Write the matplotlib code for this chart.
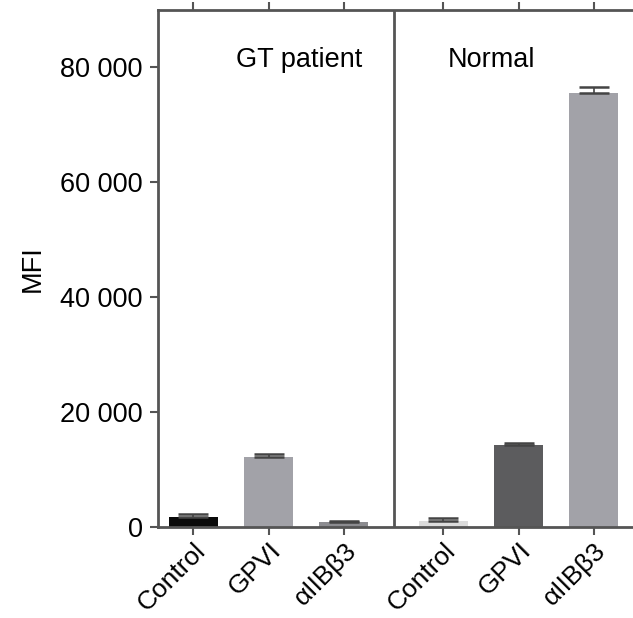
import numpy as np
import matplotlib
matplotlib.use("Agg")
import matplotlib.pyplot as plt

plt.rcParams['font.family'] = ['Liberation Sans', 'DejaVu Sans']

# MFI per antibody, GT patient vs normal donor
labels = ['Control', 'GPVI', 'αIIBβ3', 'Control', 'GPVI', 'αIIBβ3']
mfi = [1750, 12200, 870, 1050, 14300, 75500]
err = [550, 450, 150, 500, 300, 1000]
colors = ['#0a0a0a', '#a2a2a8', '#8c8c90', '#dcdcdc', '#5c5c5e', '#a2a2a8']
pos = [0, 1, 2, 3.32, 4.32, 5.32]

fig = plt.figure(figsize=(6.33, 6.18), dpi=100)
ax = fig.add_axes([0.2496, 0.147, 0.76, 0.837])

ax.bar(pos, mfi, width=0.65, color=colors, zorder=2)
ax.errorbar(pos, mfi, yerr=[np.zeros(len(err)), err], fmt='none', ecolor='#444444',
            elinewidth=1.2, capsize=11, capthick=1.8, zorder=3)

ax.axvline(2.66, color='#555555', lw=2, zorder=1)
ax.set_xlim(-0.47, 5.92)
ax.set_ylim(0, 90000)
ax.set_yticks([0, 20000, 40000, 60000, 80000])
ax.set_yticklabels(['0', '20 000', '40 000', '60 000', '80 000'], fontsize=19.5)
ax.set_xticks(pos)
ax.set_xticklabels(labels, fontsize=19, rotation=45, ha='right', rotation_mode='anchor')
ax.set_ylabel('MFI', fontsize=19.5, labelpad=10)

ax.tick_params(axis='both', color='#555555', length=6, width=1.5, pad=5)
ax.tick_params(axis='x', top=True, pad=2)
for s in ['left', 'top', 'bottom']:
    ax.spines[s].set_color('#555555')
    ax.spines[s].set_linewidth(2)
ax.spines['right'].set_visible(False)

ax.text(1.40, 81300, 'GT patient', fontsize=19.5, ha='center', va='center')
ax.text(3.96, 81300, 'Normal', fontsize=19.5, ha='center', va='center')

fig.savefig('out.png', dpi=100)
